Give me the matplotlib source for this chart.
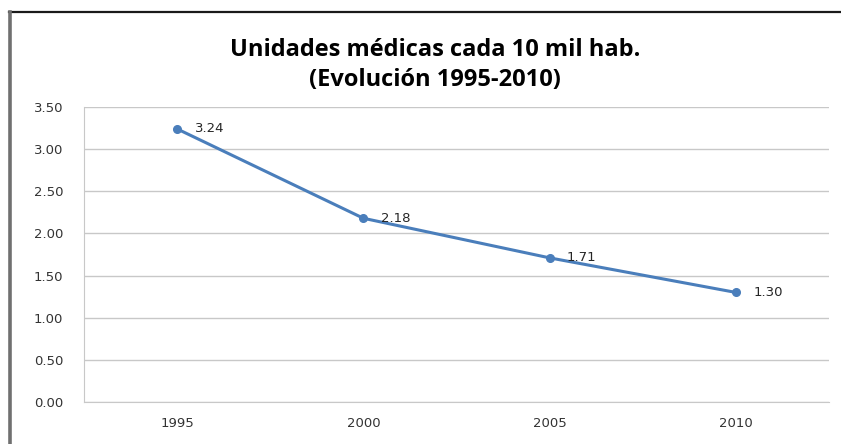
import matplotlib.pyplot as plt
from matplotlib.lines import Line2D

# --- DATA ---
years = ['1995', '2000', '2005', '2010']
values = [3.24, 2.18, 1.71, 1.30]
y_ticks = [0.0, 0.5, 1.0, 1.5, 2.0, 2.5, 3.0, 3.5]

W, H = 841, 444
fig = plt.figure(figsize=(W / 100, H / 100), dpi=100, facecolor='white')

# Outer chart frame (top and left edges visible)
fig.add_artist(Line2D([9 / W, 1], [1 - 12 / H, 1 - 12 / H], transform=fig.transFigure,
                      color='#1a1a1a', lw=1.6))
fig.add_artist(Line2D([10 / W, 10 / W], [0, 1 - 12 / H], transform=fig.transFigure,
                      color='#707070', lw=2.6))

# Plot area
ax = fig.add_axes([84 / W, 1 - 402 / H, (829 - 84) / W, (402 - 107) / H])
x = list(range(len(years)))
ax.plot(x, values, color='#4A7EBB', lw=2.2, marker='o', ms=5.5)
for xi, v in zip(x, values):
    ax.annotate(f'{v:.2f}', xy=(xi, v), xytext=(12.5, 0), textcoords='offset points',
                va='center', ha='left', fontsize=9.5, color='#262626', family='DejaVu Sans')

ax.set_xlim(-0.5, len(years) - 0.5)
ax.set_ylim(0, 3.5)
ax.set_xticks(x)
ax.set_xticklabels(years)
ax.set_yticks(y_ticks)
ax.set_yticklabels([f'{t:.2f}' for t in y_ticks])
ax.tick_params(length=0, labelsize=9.5, labelcolor='#333333')
ax.tick_params(axis='y', pad=15)
ax.tick_params(axis='x', pad=11)
ax.yaxis.grid(True, color='#C8C8C8', lw=1)
ax.set_axisbelow(True)
for side in ['top', 'right']:
    ax.spines[side].set_visible(False)
ax.spines['left'].set_color('#C8C8C8')
ax.spines['bottom'].set_color('#C8C8C8')

fig.text(435 / W, 1 - 65 / H, 'Unidades médicas cada 10 mil hab.\n(Evolución 1995-2010)',
         ha='center', va='center', fontsize=17, fontweight='bold', color='black',
         family='Open Sans', linespacing=1.3)

plt.savefig('out.png', dpi=100, facecolor='white')
plt.close()
